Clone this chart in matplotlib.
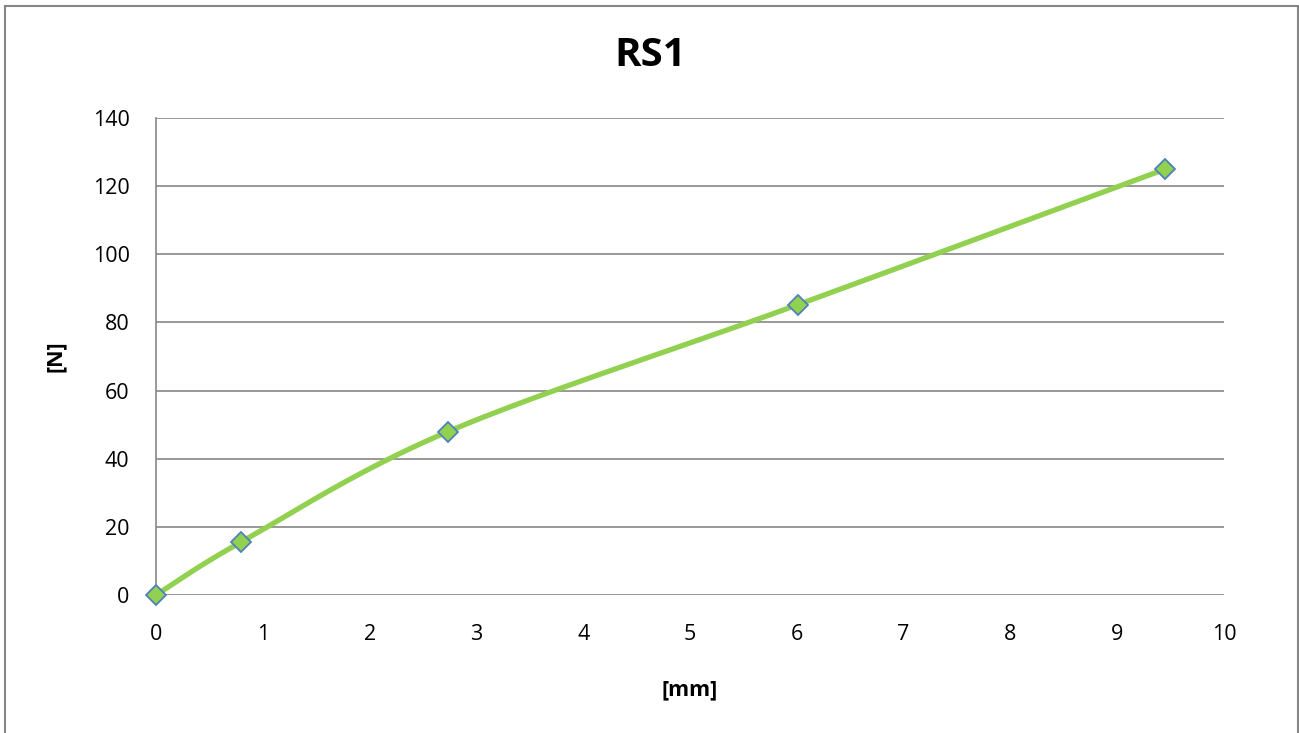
import numpy as np
import matplotlib.pyplot as plt
from matplotlib.patches import Rectangle

# data
disp_mm = [0.0, 0.80, 2.73, 6.01, 9.45]
force_n = [0.0, 15.6, 47.9, 85.2, 125.0]
x_ticks = list(range(0, 11))
y_ticks = list(range(0, 141, 20))

LINE_GREEN = '#92D050'
MARKER_BLUE = '#4F81BD'
GRID_GRAY = '#868686'

plt.rcParams['font.family'] = ['Open Sans', 'DejaVu Sans']

W, H = 1299, 733


def excel_smooth(xs, ys, steps=40):
    # Excel-style smoothed line: cubic bezier through the points, Catmull-Rom tangents
    xs = np.asarray(xs, float)
    ys = np.asarray(ys, float)
    px = np.concatenate([[xs[0]], xs, [xs[-1]]])
    py = np.concatenate([[ys[0]], ys, [ys[-1]]])
    out_x, out_y = [], []
    t = np.linspace(0, 1, steps)
    for i in range(1, len(px) - 2):
        p0 = np.array([px[i], py[i]])
        p3 = np.array([px[i + 1], py[i + 1]])
        c1 = p0 + (np.array([px[i + 1], py[i + 1]]) - np.array([px[i - 1], py[i - 1]])) / 6
        c2 = p3 - (np.array([px[i + 2], py[i + 2]]) - np.array([px[i], py[i]])) / 6
        pts = ((1 - t) ** 3)[:, None] * p0 + (3 * (1 - t) ** 2 * t)[:, None] * c1 \
            + (3 * (1 - t) * t ** 2)[:, None] * c2 + (t ** 3)[:, None] * p3
        out_x.extend(pts[:, 0])
        out_y.extend(pts[:, 1])
    return out_x, out_y


fig = plt.figure(figsize=(W / 100, H / 100), dpi=100)
ax = fig.add_axes([156 / W, 1 - 595 / H, (1224 - 156) / W, (595 - 118) / H])

sx, sy = excel_smooth(disp_mm, force_n)
ax.plot(sx, sy, color=LINE_GREEN, lw=3.8, solid_capstyle='round', zorder=3)
ax.plot(disp_mm, force_n, ls='none', marker='D', ms=10, mfc=LINE_GREEN,
        mec=MARKER_BLUE, mew=1.3, zorder=4, clip_on=False)

ax.set_xlim(0, 10)
ax.set_ylim(0, 140)
ax.set_xticks(x_ticks)
ax.set_yticks(y_ticks)
ax.grid(axis='y', color=GRID_GRAY, lw=1.2)
ax.set_axisbelow(True)
for side in ['top', 'right', 'bottom']:
    ax.spines[side].set_visible(False)
ax.spines['left'].set_color(GRID_GRAY)
ax.spines['left'].set_linewidth(1.2)
ax.tick_params(length=0, labelsize=15.5, colors='black')
ax.tick_params(axis='x', pad=21)
ax.tick_params(axis='y', pad=19)

fig.text(650 / W, 1 - 56 / H, 'RS1', fontsize=29, fontweight='bold',
         ha='center', va='center')
fig.text(690 / W, 1 - 690 / H, '[mm]', fontsize=15.5, fontweight='bold',
         ha='center', va='center')
fig.text(55 / W, 1 - 356 / H, '[N]', fontsize=15.5, fontweight='bold',
         ha='center', va='center', rotation=90)

# chart-area border
fig.patches.append(Rectangle((5 / W, -0.01), (1298 - 5) / W, 1 - 6 / H + 0.01,
                             transform=fig.transFigure, fill=False,
                             edgecolor=GRID_GRAY, lw=1.5))

fig.savefig('out.png', dpi=100)
